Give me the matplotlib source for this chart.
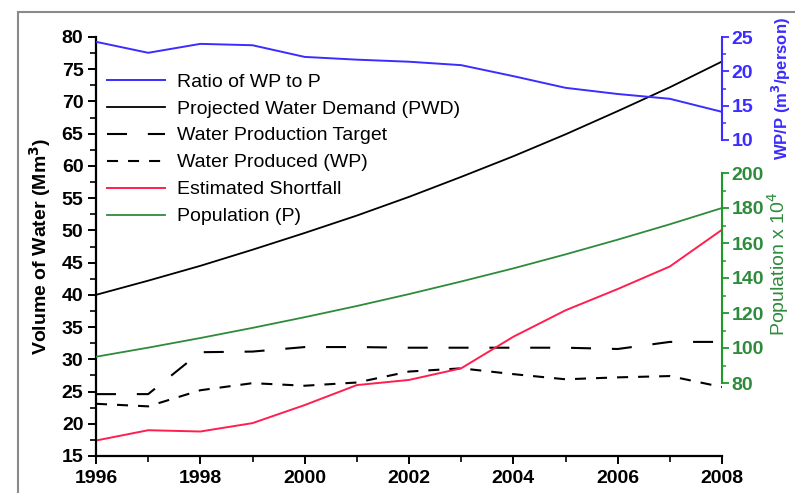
import matplotlib
matplotlib.use("Agg")
import matplotlib.pyplot as plt
from matplotlib.lines import Line2D
from matplotlib.patches import Rectangle
from matplotlib.ticker import MultipleLocator

plt.rcParams["font.family"] = ["Liberation Sans", "DejaVu Sans"]

# Valores
anos = [1996, 1997, 1998, 1999, 2000, 2001, 2002, 2003, 2004, 2005, 2006, 2007, 2008]
demanda_pwd = [40.0, 42.2, 44.5, 47.0, 49.6, 52.3, 55.2, 58.3, 61.5, 64.9, 68.5, 72.2, 76.2]
meta_producao = [24.6, 24.6, 31.1, 31.2, 31.9, 31.9, 31.8, 31.8, 31.8, 31.8, 31.6, 32.7, 32.7]
agua_produzida = [23.1, 22.7, 25.2, 26.3, 25.9, 26.4, 28.1, 28.6, 27.7, 26.9, 27.2, 27.4, 25.7]
deficit = [17.4, 19.0, 18.8, 20.1, 22.9, 26.0, 26.8, 28.6, 33.5, 37.6, 40.9, 44.4, 50.1]
razao_wp_p = [24.3, 22.7, 24.0, 23.8, 22.1, 21.7, 21.4, 20.9, 19.3, 17.6, 16.7, 16.0, 14.1]
populacao = [95.0, 100.2, 105.7, 111.5, 117.6, 124.0, 130.8, 138.0, 145.5, 153.5, 161.9, 170.7, 180.0]

rotulos_legenda = ["Ratio of WP to P", "Projected Water Demand (PWD)", "Water Production Target",
                   "Water Produced (WP)", "Estimated Shortfall", "Population (P)"]

AZUL = "#3b2cff"
VERDE = "#2e8b3c"
VERDE_EIXO = "#1f9a2a"
VERMELHO = "#ff1f4f"
TRACO_META = (0, (9.6, 10))
TRACO_PROD = (0, (5.3, 4.8))

W, H = 795, 493
fig = plt.figure(figsize=(W / 100, H / 100), dpi=100)

# moldura cinza do recorte original
fig.add_artist(Rectangle((18 / W, -0.1), 1.2, 1 - 12 / H + 0.1,
                         transform=fig.transFigure, fill=False,
                         edgecolor="#8a8a8a", linewidth=1.5))

x0, x1, y0, y1 = 96, 722, 37, 456
altura = y1 - y0
ax = fig.add_axes([x0 / W, 1 - y1 / H, (x1 - x0) / W, altura / H])
ax.patch.set_alpha(0)

ax.plot(anos, demanda_pwd, color="black", lw=1.3)
ax.plot(anos, meta_producao, color="black", lw=1.5, linestyle=TRACO_META)
ax.plot(anos, agua_produzida, color="black", lw=1.5, linestyle=TRACO_PROD)
ax.plot(anos, deficit, color=VERMELHO, lw=1.4)

ax.set_xlim(1996, 2008)
ax.set_ylim(15, 80)
ax.xaxis.set_major_locator(MultipleLocator(2))
ax.xaxis.set_minor_locator(MultipleLocator(1))
ax.yaxis.set_major_locator(MultipleLocator(5))
ax.yaxis.set_minor_locator(MultipleLocator(2.5))
for s in ["top", "right"]:
    ax.spines[s].set_visible(False)
for s in ["left", "bottom"]:
    ax.spines[s].set_linewidth(1.6)
ax.tick_params(which="major", length=6, width=1.4, labelsize=14, pad=3)
ax.tick_params(axis="x", which="major", pad=4)
ax.tick_params(which="minor", length=4, width=1.2)
for lab in ax.get_xticklabels() + ax.get_yticklabels():
    lab.set_fontweight("bold")
ax.set_ylabel("Volume of Water (Mm$^\\mathbf{3}$)", fontsize=14, fontweight="bold", labelpad=6)

# eixo azul (WP/P)
ax_b = ax.twinx()
esc_b = 15 / (140 - y0)
ax_b.set_ylim(25 - altura * esc_b, 25)
ax_b.plot(anos, razao_wp_p, color=AZUL, lw=1.4)
for s in ["top", "left", "bottom"]:
    ax_b.spines[s].set_visible(False)
ax_b.spines["right"].set_color(AZUL)
ax_b.spines["right"].set_linewidth(1.5)
ax_b.spines["right"].set_bounds(10, 25)
ax_b.set_yticks([10, 15, 20, 25])
ax_b.set_yticks([12.5, 17.5, 22.5], minor=True)
ax_b.tick_params(axis="y", which="major", colors=AZUL, length=5, width=1.3, labelsize=14, pad=2)
ax_b.tick_params(axis="y", which="minor", colors=AZUL, length=3, width=1.1)
for lab in ax_b.get_yticklabels():
    lab.set_fontweight("bold")

# eixo verde (populacao)
ax_g = ax.twinx()
esc_g = 120 / (383 - 173)
ax_g.set_ylim(80 - (y1 - 383) * esc_g, 200 + (173 - y0) * esc_g)
ax_g.plot(anos, populacao, color=VERDE, lw=1.3)
for s in ["top", "left", "bottom"]:
    ax_g.spines[s].set_visible(False)
ax_g.spines["right"].set_color(VERDE_EIXO)
ax_g.spines["right"].set_linewidth(1.5)
ax_g.spines["right"].set_bounds(80, 200)
ax_g.set_yticks([80, 100, 120, 140, 160, 180, 200])
ax_g.set_yticks([90, 110, 130, 150, 170, 190], minor=True)
ax_g.tick_params(axis="y", which="major", colors=VERDE_EIXO, length=5, width=1.3, labelsize=14, pad=2)
ax_g.tick_params(axis="y", which="minor", colors=VERDE_EIXO, length=3, width=1.1)
for lab in ax_g.get_yticklabels():
    lab.set_fontweight("bold")
    lab.set_color(VERDE)

fig.text(781 / W, 1 - 89 / H, "WP/P (m$^\\mathbf{3}$/person)", rotation=90, color=AZUL,
         fontsize=12, fontweight="bold", ha="center", va="center")
fig.text(778 / W, 1 - 264 / H, "Population x 10$^4$", rotation=90, color=VERDE,
         fontsize=14, ha="center", va="center")

# legenda
handles = [
    Line2D([], [], color=AZUL, lw=1.4),
    Line2D([], [], color="black", lw=1.3),
    Line2D([], [], color="black", lw=1.5, linestyle=TRACO_META),
    Line2D([], [], color="black", lw=1.5, linestyle=TRACO_PROD),
    Line2D([], [], color=VERMELHO, lw=1.4),
    Line2D([], [], color=VERDE, lw=1.3),
]
ax_g.legend(handles, rotulos_legenda, loc="upper left",
            bbox_to_anchor=(11 / (x1 - x0), (y1 - 73) / altura),
            frameon=False, fontsize=14, handlelength=3.0, handletextpad=0.62,
            labelspacing=0.48, borderpad=0, borderaxespad=0)

fig.savefig("out.png", dpi=100)
